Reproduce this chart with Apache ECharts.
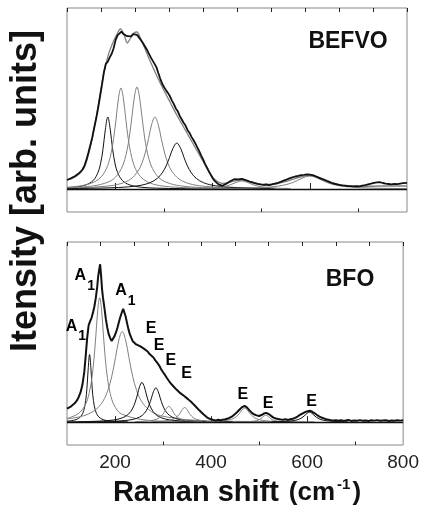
<!DOCTYPE html>
<html><head><meta charset="utf-8">
<script src="https://cdn.jsdelivr.net/npm/echarts@6.0.0/dist/echarts.min.js"></script>
<style>html,body{margin:0;padding:0;background:#fff}#c{width:422px;height:512px}</style>
</head><body><div id="c"></div>
<script>
// ---- axis settings / ticks ----
const xMin = 100, xMax = 800;
const xTickLabels = [200, 400, 600, 800];
const xMajorTicks = [200, 400, 600];
const xMinorTicks = [300, 500, 700];

// ---- BEFVO (top panel) ----
const befvoMeasured = [[100,9.0],[104,10.2],[108,10.6],[112,11.9],[116,12.8],[120,13.6],[124,15.4],[128,16.8],[132,19.5],[136,23.4],[140,29.1],[144,36.2],[148,43.8],[152,51.5],[156,61.3],[160,70.2],[164,80.6],[168,92.4],[172,104.1],[176,116.8],[180,125.2],[184,127.3],[188,131.6],[192,135.2],[196,140.8],[200,148.9],[204,153.6],[208,155.2],[212,157.4],[216,155.1],[220,154.3],[224,152.8],[228,153.9],[232,152.6],[236,154.9],[240,155.6],[244,154.1],[248,152.2],[252,149.1],[256,146.3],[260,143.0],[264,139.8],[268,135.9],[272,132.1],[276,128.6],[280,125.4],[284,121.9],[288,116.0],[292,110.2],[296,105.3],[300,101.8],[304,98.6],[308,95.9],[312,92.7],[316,88.4],[320,84.9],[324,80.6],[328,77.8],[332,73.1],[336,69.7],[340,66.2],[344,63.4],[348,59.1],[352,56.3],[356,52.4],[360,49.2],[364,45.8],[368,41.9],[372,38.1],[376,33.6],[380,29.8],[384,25.4],[388,21.7],[392,17.9],[396,14.2],[400,10.8],[404,8.1],[408,6.2],[412,4.6],[416,3.9],[420,3.2],[424,4.1],[428,5.3],[432,6.9],[436,7.8],[440,9.1],[444,9.8],[448,10.3],[452,9.6],[456,10.4],[460,10.1],[464,9.5],[468,8.9],[472,8.2],[476,7.4],[480,7.0],[486,5.9],[492,5.2],[498,4.6],[504,4.1],[510,4.5],[516,3.9],[522,4.6],[528,5.4],[534,6.2],[540,7.1],[546,8.3],[552,9.4],[558,10.6],[564,11.7],[570,12.5],[576,13.1],[582,13.9],[588,14.2],[594,14.6],[600,14.3],[606,13.8],[612,12.6],[618,11.4],[624,10.2],[630,9.1],[636,7.8],[642,6.6],[648,5.5],[654,4.8],[660,4.1],[666,3.6],[672,3.3],[678,3.0],[684,2.8],[690,2.6],[696,2.9],[702,2.7],[708,3.4],[714,3.9],[720,4.6],[726,5.3],[732,6.1],[738,6.6],[744,6.8],[750,6.0],[756,5.3],[762,5.0],[768,4.7],[774,5.2],[780,4.8],[786,5.4],[792,5.9],[800,6.1]];
const befvoFit = [[100,9],[120,13],[135,21],[145,36],[155,58],[165,86],[175,114],[185,134],[195,147],[203,155],[210,160],[217,155],[224,146],[231,151],[238,156],[244,157],[251,151],[260,141],[272,127],[285,113],[298,100],[312,87],[326,74],[340,62],[354,50],[368,38],[382,26],[395,15],[408,8],[422,5.5],[440,7.5],[460,9],[480,7],[505,4.5],[530,5],[555,8],[580,12],[600,13.5],[620,11.5],[645,6.5],[670,3.5],[700,2.5],[740,3],[800,3]];
const befvoBand184 = [[100,1.2],[124,2.3],[139,4.1],[154,8.5],[164,16.7],[169,25.2],[174,39.4],[179,59.7],[184,72],[189,59.7],[194,39.4],[199,25.2],[204,16.7],[214,8.5],[229,4.1],[254,1.7],[284,0.86],[334,0.39],[434,0.1]];
const befvoBand211 = [[100,1.8],[131,3.4],[156,7.0],[171,12.5],[181,20.2],[186,26.7],[191,36.4],[196,50.5],[201,69.9],[206,90.9],[211,101],[216,90.9],[221,69.9],[226,50.5],[231,36.4],[236,26.7],[241,20.2],[251,12.5],[266,7.0],[291,3.4],[331,1.55],[381,0.78],[461,0.36]];
const befvoBand244 = [[100,1.24],[154,3.1],[184,6.8],[199,11.5],[212,20.4],[219,29.6],[224,39.8],[228,51],[234,73.4],[239,92.9],[244,102],[249,92.9],[254,73.4],[260,51],[264,39.8],[269,29.6],[276,20.4],[289,11.5],[304,6.8],[334,3.1],[394,1.15],[494,0.42]];
const befvoBand281 = [[100,0.87],[131,1.26],[181,2.8],[211,5.4],[231,9.9],[246,17.7],[254,25.5],[261,36],[268,50.6],[274,64.1],[281,72],[288,64.1],[294,50.6],[301,36],[308,25.5],[316,17.7],[331,9.9],[351,5.4],[381,2.8],[431,1.26],[531,0.46]];
const befvoBand326 = [[100,0.43],[126,0.55],[206,1.5],[246,3.2],[271,6.3],[286,10.7],[296,16.1],[304,23],[311,31.4],[318,40.6],[326,46],[334,40.6],[341,31.4],[348,23],[356,16.1],[366,10.7],[381,6.3],[406,3.2],[446,1.5],[526,0.55]];
const befvoBand460 = [[360,0.47],[400,1.18],[420,2.25],[435,4],[448,6.5],[460,8],[472,6.5],[485,4],[500,2.25],[520,1.18],[560,0.47]];
const befvoBand600 = [[400,0.38],[480,1.02],[520,2.1],[545,3.75],[565,6.5],[585,11],[600,13],[615,11],[635,6.5],[655,3.75],[680,2.1],[720,1.02],[800,0.38]];

// ---- BFO (bottom panel) ----
const bfoMeasured = [[100,13.5],[104,14.8],[108,15.6],[112,17.2],[116,18.9],[120,21.3],[124,24.8],[128,29.6],[132,37.2],[136,50.4],[139,66.8],[142,84.5],[145,97.3],[148,101.2],[151,104.6],[154,109.8],[157,116.2],[160,124.9],[163,136.4],[165,146.8],[167,153.1],[169,158.6],[171,147.2],[173,133.5],[175,124.8],[178,114.6],[181,103.2],[184,94.7],[187,88.1],[190,84.3],[193,81.6],[196,83.2],[199,86.4],[202,90.1],[205,94.8],[208,100.3],[211,105.6],[214,109.9],[217,113.8],[219,112.6],[222,106.4],[225,99.5],[228,93.2],[231,88.1],[234,84.6],[237,81.2],[240,79.5],[244,78.1],[248,77.6],[252,76.3],[256,75.4],[260,73.8],[264,72.6],[268,70.9],[272,68.4],[276,66.8],[280,64.9],[284,62.1],[288,59.6],[292,56.8],[296,53.2],[300,50.1],[304,47.4],[308,44.3],[312,41.6],[316,38.9],[320,36.8],[324,34.9],[328,32.7],[332,30.8],[336,29.1],[340,27.6],[344,26.2],[348,24.9],[352,23.1],[356,21.4],[360,19.6],[364,17.8],[368,15.7],[372,13.9],[376,11.6],[380,9.8],[384,7.9],[388,6.1],[392,4.6],[396,3.4],[400,2.8],[405,2.1],[410,1.6],[415,2.3],[420,1.8],[425,2.5],[430,2.9],[435,3.6],[440,4.8],[445,6.1],[450,8.2],[455,10.4],[460,12.9],[465,15.1],[470,16.3],[475,14.6],[480,11.8],[485,9.3],[490,7.6],[495,6.8],[500,6.2],[505,7.1],[510,8.6],[515,9.3],[520,8.1],[525,6.3],[530,4.5],[535,3.6],[540,3.1],[545,2.7],[550,2.4],[555,2.9],[560,2.2],[565,2.8],[570,3.4],[575,4.3],[580,5.6],[585,7.2],[590,8.6],[595,9.9],[600,10.8],[605,11.4],[610,10.6],[615,9.1],[620,7.4],[625,5.8],[630,4.6],[635,3.7],[640,3.0],[645,2.4],[650,2.0],[655,1.7],[660,1.9],[665,1.4],[670,1.8],[675,1.3],[680,1.6],[686,2.1],[692,1.2],[698,1.7],[704,1.4],[710,2.0],[716,1.3],[722,1.7],[728,1.1],[734,1.8],[740,1.5],[746,2.0],[752,1.3],[758,1.6],[764,1.9],[770,1.2],[776,1.7],[782,1.4],[788,1.9],[794,1.5],[800,1.8]];
const bfoBand147 = [[100,0.92],[119,2.5],[129,5.8],[135,11.8],[139,21.8],[141.5,34],[144,52.4],[147,68],[150,52.4],[152.5,34],[155,21.8],[159,11.8],[165,5.8],[175,2.5],[194,0.92],[227,0.32]];
const bfoBand168 = [[100,3.8],[123,8.3],[138,17.2],[146,28.7],[152,45],[156,62.5],[160,86.5],[164,112.5],[168,125],[172,112.5],[176,86.5],[180,62.5],[184,45],[190,28.7],[198,17.2],[213,8.3],[268,1.78],[318,0.8],[418,0.29]];
const bfoBand215 = [[100,3.2],[135,6.4],[160,12.6],[175,21.1],[185,31.8],[193,45.5],[201,64.8],[208,82.6],[215,91],[222,82.6],[229,64.8],[237,45.5],[245,31.8],[255,21.1],[270,12.6],[295,6.4],[365,1.9],[465,0.7],[615,0.27]];
const bfoBand256 = [[100,0.32],[156,0.77],[196,2.06],[216,4.4],[228,8],[236,13.2],[242,20],[247,28.3],[251,35.5],[256,40],[261,35.5],[265,28.3],[270,20],[276,13.2],[284,8],[296,4.4],[316,2.06],[356,0.77],[420,0.3]];
const bfoBand285 = [[125,0.26],[185,0.67],[225,1.78],[245,3.8],[257,6.9],[265,11.35],[271,17.25],[276,24.4],[280,30.6],[285,34.5],[290,30.6],[294,24.4],[299,17.25],[305,11.35],[313,6.9],[325,3.8],[345,1.78],[385,0.67],[445,0.26]];
const bfoBand312 = [[242,0.46],[272,1.3],[287,2.99],[294,4.9],[300,8],[304,11.1],[307,13.7],[312,16],[317,13.7],[320,11.1],[324,8],[330,4.9],[337,2.99],[352,1.3],[382,0.46]];
const bfoBand345 = [[275,0.42],[305,1.2],[320,2.75],[327,4.5],[333,7.35],[337,10.2],[340,12.6],[345,14.7],[350,12.6],[353,10.2],[357,7.35],[363,4.5],[370,2.75],[385,1.2],[415,0.42]];
const bfoBand470 = [[390,0.41],[425,1.24],[442,2.8],[450,4.6],[456,7],[461,9.9],[465,12.4],[470,14],[475,12.4],[479,9.9],[484,7],[490,4.6],[498,2.8],[515,1.24],[550,0.41]];
const bfoBand514 = [[454,0.19],[484,0.7],[494,1.4],[500,2.3],[504,3.5],[508,5.2],[514,7],[520,5.2],[524,3.5],[528,2.3],[534,1.4],[544,0.7],[574,0.19]];
const bfoBand605 = [[525,0.3],[560,0.88],[577,2],[585,3.3],[591,5],[596,7.1],[600,8.9],[605,10],[610,8.9],[614,7.1],[619,5],[625,3.3],[633,2],[650,0.88],[685,0.3]];

// mode labels (text, x in cm-1, y in intensity units)
const modeText = ['A1','A1','A1','E','E','E','E','E','E','E'];
const modeX = [118.5,137,221.5,275,291.5,316,349,466,519,609.5];
const modeY = [96,147,132,94,77,62,49,28,19,21];

const panelNames = ['BEFVO','BFO'];
const yTitle = 'Itensity [arb. units]';

// ---- build ----
const FONT = "'Liberation Sans', Arial, Helvetica, sans-serif";
const BLACK = '#111', GREY = '#808080';
const chart = echarts.init(document.getElementById('c'), null, {renderer:'canvas'});

const grids = [
  {left:67, right:15, top:8, height:204},
  {left:67, right:15, top:242, height:203}
];
function xAxesFor(g, withLabels){
  return [
    {gridIndex:g, type:'value', position:'bottom', min:xMin, max:xMax, interval:100,
     axisLine:{show:false}, splitLine:{show:false},
     axisTick:{show:true, inside:true, length:6, customValues:xMajorTicks, lineStyle:{color:'#222',width:1}},
     axisLabel:{show:withLabels, customValues:xTickLabels, fontSize:19, color:'#222', fontFamily:FONT, margin:8}},
    {gridIndex:g, type:'value', position:'bottom', min:xMin, max:xMax, interval:100,
     axisLine:{show:false}, splitLine:{show:false},
     axisTick:{show:true, inside:true, length:3.5, customValues:xMinorTicks, lineStyle:{color:'#222',width:1}},
     axisLabel:{show:false}},
    {gridIndex:g, type:'value', position:'top', min:0, max:10, interval:1,
     axisLine:{show:false}, splitLine:{show:false},
     axisTick:{show:true, inside:true, length:4, lineStyle:{color:'#222',width:1}},
     axisLabel:{show:false}}
  ];
}
const yAxes = [0,1].map(g => ({gridIndex:g, type:'value', min:-23, max:181, show:false}));

function line(data, xi, yi, color, width, smooth, z){
  return {type:'line', data:data, xAxisIndex:xi, yAxisIndex:yi, showSymbol:false, symbol:'none',
    smooth:smooth, lineStyle:{color:color, width:width}, z:z||2, silent:true, animation:false};
}
const series = [];
[[befvoBand184,BLACK],[befvoBand211,GREY],[befvoBand244,GREY],[befvoBand281,GREY],[befvoBand326,BLACK],[befvoBand460,GREY],[befvoBand600,GREY]]
  .forEach(b => series.push(line(b[0],0,0,b[1],1,0.35,2)));
series.push(line(befvoFit,0,0,GREY,1.3,0.3,3));
const topMeas = line(befvoMeasured,0,0,BLACK,1.8,false,4);
topMeas.markLine = {silent:true, symbol:'none', label:{show:false}, lineStyle:{color:BLACK, width:1.3, type:'solid'}, data:[{yAxis:0}], animation:false};
series.push(topMeas);
[[bfoBand147,BLACK],[bfoBand168,GREY],[bfoBand215,GREY],[bfoBand256,BLACK],[bfoBand285,BLACK],[bfoBand312,GREY],[bfoBand345,GREY],[bfoBand470,GREY],[bfoBand514,GREY],[bfoBand605,BLACK]]
  .forEach(b => series.push(line(b[0],3,1,b[1],1,0.35,2)));
const botMeas = line(bfoMeasured,3,1,BLACK,2,false,4);
botMeas.markLine = {silent:true, symbol:'none', label:{show:false}, lineStyle:{color:BLACK, width:1.3, type:'solid'}, data:[{yAxis:0}], animation:false};
series.push(botMeas);
series.push({type:'scatter', xAxisIndex:3, yAxisIndex:1, symbolSize:1, silent:true, animation:false, z:6,
  itemStyle:{color:'rgba(0,0,0,0)', opacity:1},
  data: modeText.map((t,i)=>({name:t, value:[modeX[i], modeY[i]]})),
  label:{show:true, position:'inside', color:'#000', opacity:1, fontFamily:FONT, fontWeight:'bold',
    formatter: p => p.name.length > 1 ? '{a|' + p.name[0] + '}{s|' + p.name.slice(1) + '}' : '{a|' + p.name + '}',
    rich:{ a:{fontSize:16, fontWeight:'bold', fontFamily:FONT, color:'#000'},
           s:{fontSize:14, fontWeight:'bold', fontFamily:FONT, color:'#000', padding:[20,0,0,1]} } }
});

const option = {
  backgroundColor:'#fff',
  animation:false,
  grid: grids.map(g => Object.assign({show:true, borderColor:'#888', borderWidth:1, backgroundColor:'transparent'}, g)),
  xAxis: xAxesFor(0,false).concat(xAxesFor(1,true)),
  yAxis: yAxes,
  series: series,
  graphic: [
    {type:'text', x:348, y:42, style:{text:panelNames[0], font:"bold 23px " + FONT, fill:'#111', align:'center', verticalAlign:'middle'}},
    {type:'text', x:350, y:280, style:{text:panelNames[1], font:"bold 23px " + FONT, fill:'#111', align:'center', verticalAlign:'middle'}},
    {type:'text', x:26.5, y:191, rotation:Math.PI/2, style:{text:yTitle, font:"bold 36px " + FONT, fill:'#111', align:'center', verticalAlign:'middle'}},
    {type:'text', x:237, y:493, style:{
      text:'{r|Raman shift}{p|(cm}{u|-1}{q|)}', align:'center', verticalAlign:'middle',
      rich:{ r:{font:"bold 29px " + FONT, fill:'#111', padding:[0,10,0,0]},
             p:{font:"bold 26px " + FONT, fill:'#111', padding:[0,2,0,0]},
             u:{font:"bold 15px " + FONT, fill:'#111', padding:[0,2,16,0]},
             q:{font:"bold 26px " + FONT, fill:'#111'} } }}
  ]
};
chart.setOption(option);
</script></body></html>
